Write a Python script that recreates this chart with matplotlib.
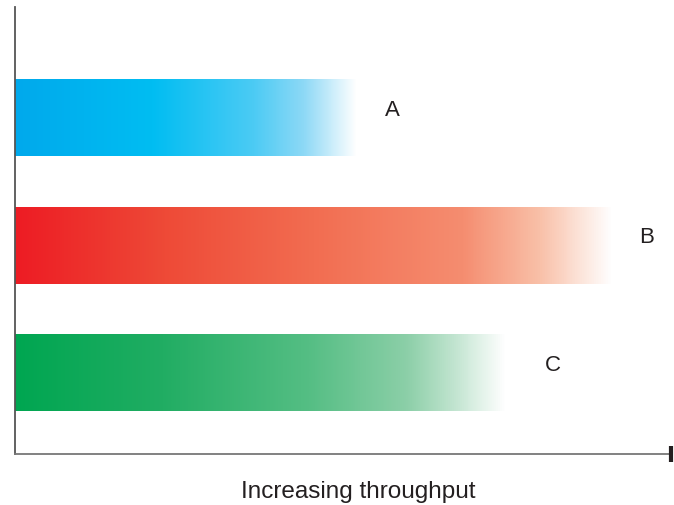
import numpy as np
import matplotlib.pyplot as plt
from matplotlib.colors import LinearSegmentedColormap

plt.rcParams['font.family'] = ['Liberation Sans', 'DejaVu Sans']

# throughput of each option (arbitrary units, axis runs 0..100)
labels = ["A", "B", "C"]
throughput = [52.0, 90.9, 74.6]
ypos = [2, 1, 0]

# colour stops along each bar, fading out to white at the end
stops = {
    "A": [(0.0, "#00a9ec"), (0.4, "#00bdf2"), (0.7, "#4ccbf4"),
          (0.85, "#8fd9f6"), (1.0, "#ffffff")],
    "B": [(0.0, "#ed1c24"), (0.25, "#ee4a37"), (0.5, "#f26d51"),
          (0.75, "#f58d70"), (0.88, "#f9c0a8"), (1.0, "#ffffff")],
    "C": [(0.0, "#00a651"), (0.3, "#21ad63"), (0.6, "#55be84"),
          (0.8, "#8ccfa8"), (0.9, "#c3e5d1"), (1.0, "#ffffff")],
}
label_gap = [5.5, 5.3, 7.3]

fig = plt.figure(figsize=(6.74, 5.06), dpi=100)
ax = fig.add_axes([15 / 674, 51 / 506, 657 / 674, 447 / 506])

y0, y1 = -0.634, 2.871
bar_h = 0.6
grad = np.linspace(0, 1, 500)[None, :]
for lab, val, y, gap in zip(labels, throughput, ypos, label_gap):
    cmap = LinearSegmentedColormap.from_list("g" + lab, stops[lab])
    ax.imshow(grad, cmap=cmap, extent=[0, val, y - bar_h / 2, y + bar_h / 2],
              aspect="auto", interpolation="bilinear", zorder=2)
    ax.text(val + gap, y + 0.07, lab, fontsize=16, color="#231f20",
            ha="center", va="center")

ax.set_xlim(0, 100)
ax.set_ylim(y0, y1)
ax.set_xticks([])
ax.set_yticks([])
for s in ["top", "right"]:
    ax.spines[s].set_visible(False)
ax.spines["left"].set_color("#555555")
ax.spines["bottom"].set_color("#777777")
ax.spines["left"].set_linewidth(1.3)
ax.spines["bottom"].set_linewidth(1.3)
ax.plot([99.8], [y0], marker="|", markersize=12, markeredgewidth=3,
        color="#231f20", clip_on=False, zorder=5)

fig.text(358 / 674, 1 - 492 / 506, "Increasing throughput", fontsize=17.5,
         color="#231f20", ha="center", va="center")

fig.savefig("out.png", dpi=100)
